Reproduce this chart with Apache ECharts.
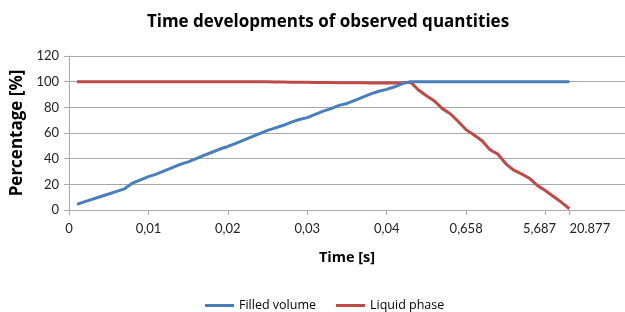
<!DOCTYPE html>
<html>
<head>
<meta charset="utf-8">
<script src="https://cdn.jsdelivr.net/npm/echarts@6/dist/echarts.min.js"></script>
<style>
  html, body { margin: 0; padding: 0; background: #fff; }
  #chart { width: 625px; height: 312px; }
</style>
</head>
<body>
<div id="chart"></div>
<script>
// category slots along the time axis (71 slots, labels only on a few)
const slotCount = 71;
const tickIndex = [0, 10, 20, 30, 40, 50, 60, 63];
const tickLabels = ["0", "0,01", "0,02", "0,03", "0,04", "0,658", "5,687", "20.877"];

// values per slot, slot 0 is empty
const filledVolume = [null,
  4.4, 6.5, 8.5, 10.5, 12.5, 14.5, 16.5, 21, 23.5, 26,
  28, 30.5, 33, 35.5, 37.5, 40, 42.5, 45, 47.5, 49.5,
  52, 54.5, 57, 59.5, 62, 64, 66, 68.5, 70.5, 72,
  74.5, 77, 79, 81.5, 83, 85.5, 88, 90.5, 92.5, 94,
  96, 98.5, 100, 100, 100, 100, 100, 100, 100, 100,
  100, 100, 100, 100, 100, 100, 100, 100, 100, 100,
  100, 100, 100];
const liquidPhase = [null,
  100, 100, 100, 100, 100, 100, 100, 100, 100, 100,
  100, 100, 100, 100, 100, 100, 100, 100, 100, 100,
  100, 100, 100, 100, 99.9, 99.8, 99.7, 99.6, 99.5, 99.5,
  99.4, 99.3, 99.3, 99.2, 99.2, 99.1, 99.1, 99, 99, 99,
  99, 99.2, 99.6, 93.5, 89, 85, 79, 75, 69, 62.5,
  58.5, 54, 47, 43.5, 36, 31, 28, 24.5, 19, 15,
  10.5, 6, 1];

const categories = [];
for (let i = 0; i < slotCount; i++) {
  const k = tickIndex.indexOf(i);
  let label = k >= 0 ? tickLabels[k] : "";
  if (label === "20.877") {
    categories.push({ value: label, textStyle: { align: "left" } });
  } else if (label === "5,687") {
    categories.push({ value: label, textStyle: { padding: [0, 12, 0, 0] } });
  } else {
    categories.push(label);
  }
}

const el = echarts.init(document.getElementById("chart"));
const FONT = "Lato";
const HEAD = "Open Sans";
const gridColor = "#a8a8a8";
const isTick = function (idx) { return tickIndex.indexOf(idx) >= 0; };

const options = {
  animation: false,
  title: {
    text: "Time developments of observed quantities",
    left: 323,
    textAlign: "center",
    top: 9,
    textStyle: { fontFamily: HEAD, fontSize: 17, fontWeight: "bold", color: "#000" },
  },
  grid: { left: 69, right: 0, top: 56, bottom: 102 },
  legend: {
    left: 200,
    top: 294,
    icon: "rect",
    itemWidth: 29,
    itemHeight: 3,
    itemGap: 20,
    textStyle: { fontFamily: HEAD, fontSize: 12.5, color: "#000" },
    data: ["Filled volume", "Liquid phase"],
  },
  xAxis: {
    type: "category",
    boundaryGap: false,
    data: categories,
    name: "Time [s]",
    nameLocation: "middle",
    nameGap: 40,
    nameTextStyle: { fontFamily: HEAD, fontSize: 14.5, fontWeight: "bold", color: "#000" },
    axisLine: { lineStyle: { color: gridColor } },
    axisTick: { interval: isTick, length: 5, lineStyle: { color: gridColor } },
    axisLabel: {
      interval: isTick,
      margin: 12,
      fontFamily: FONT,
      fontSize: 13,
      color: "#222",
    },
    splitLine: { show: false },
  },
  yAxis: {
    type: "value",
    min: 0,
    max: 120,
    interval: 20,
    name: "Percentage [%]",
    nameLocation: "middle",
    nameGap: 32,
    nameTextStyle: { fontFamily: HEAD, fontSize: 17, fontWeight: "bold", color: "#000" },
    axisLine: { show: true, lineStyle: { color: gridColor } },
    axisTick: { show: true, length: 5, lineStyle: { color: gridColor } },
    axisLabel: { margin: 10, fontFamily: FONT, fontSize: 13, color: "#222" },
    splitLine: { lineStyle: { color: gridColor } },
  },
  series: [
    {
      name: "Filled volume",
      type: "line",
      symbol: "none",
      data: filledVolume,
      itemStyle: { color: "#4a7ebb" },
      lineStyle: { width: 3, color: "#4a7ebb" },
      z: 3,
    },
    {
      name: "Liquid phase",
      type: "line",
      symbol: "none",
      data: liquidPhase,
      itemStyle: { color: "#be4b48" },
      lineStyle: { width: 3, color: "#be4b48" },
      z: 2,
    },
  ],
};

el.setOption(options);
</script>
</body>
</html>
